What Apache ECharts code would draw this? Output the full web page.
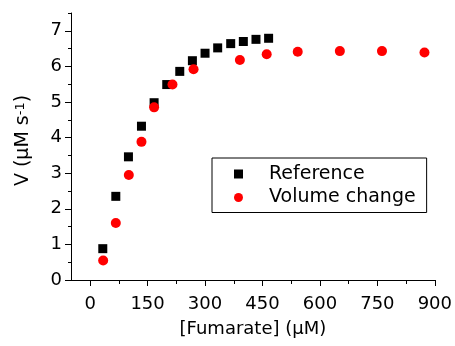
<!DOCTYPE html>
<html>
<head>
<meta charset="utf-8">
<script src="https://cdn.jsdelivr.net/npm/echarts@6/dist/echarts.min.js"></script>
<style>html,body{margin:0;padding:0;background:#fff}#c{width:455px;height:346px}</style>
</head>
<body>
<div id="c"></div>
<script>
var refX = [33, 67, 100, 134, 167, 200, 234, 267, 300, 333, 367, 400, 433, 466];
var refY = [0.88, 2.35, 3.46, 4.32, 4.98, 5.49, 5.86, 6.16, 6.37, 6.52, 6.64, 6.70, 6.76, 6.79];
var volX = [34, 67, 101, 134, 167, 215, 270, 391, 461, 542, 652, 762, 873];
var volY = [0.55, 1.60, 2.95, 3.88, 4.85, 5.49, 5.92, 6.18, 6.34, 6.41, 6.43, 6.43, 6.39];
var xMajor = [0, 150, 300, 450, 600, 750, 900];
var xMinor = [75, 225, 375, 525, 675, 825];
var yMajor = [0, 1, 2, 3, 4, 5, 6, 7];
var yMinor = [0.5, 1.5, 2.5, 3.5, 4.5, 5.5, 6.5, 7.5];

function zip(a, b) { return a.map(function (v, i) { return [v, b[i]]; }); }

var FONT = 'DejaVu Sans, sans-serif';
var chart = echarts.init(document.getElementById('c'), null, {renderer: 'canvas'});
var lineStyle = {color: '#000', width: 1};
chart.setOption({
  animation: false,
  grid: {left: 71, right: 20, top: 13, bottom: 66},
  legend: {
    orient: 'vertical',
    left: 212, top: 158,
    padding: [6, 11, 5, 22],
    borderColor: '#000', borderWidth: 1,
    itemWidth: 9, itemHeight: 9, itemGap: 3.5,
    textStyle: {fontFamily: FONT, fontSize: 19, color: '#000', lineHeight: 20, padding: [0, 0, 0, 21]},
    data: ['Reference', 'Volume change']
  },
  xAxis: [{
    type: 'value', min: -50, max: 900,
    name: '[Fumarate] (\u00b5M)', nameLocation: 'middle', nameGap: 40, nameMoveOverlap: false,
    nameTextStyle: {fontFamily: FONT, fontSize: 18, color: '#000'},
    axisLine: {onZero: false, lineStyle: lineStyle},
    axisTick: {customValues: xMajor, length: 6, lineStyle: lineStyle},
    axisLabel: {customValues: xMajor, margin: 15, fontFamily: FONT, fontSize: 18, color: '#000'},
    splitLine: {show: false}
  }, {
    type: 'value', min: -50, max: 900, position: 'bottom', gridIndex: 0,
    axisLine: {show: false, onZero: false},
    axisTick: {customValues: xMinor, length: 4, lineStyle: lineStyle},
    axisLabel: {show: false},
    splitLine: {show: false}
  }],
  yAxis: [{
    type: 'value', min: 0, max: 7.5,
    name: '{a|V (\u00b5M s}{b|-1}{a|)}', nameLocation: 'middle', nameGap: 38, nameRotate: 90, nameMoveOverlap: false,
    nameTextStyle: {padding: [0, 0, 0, 12], rich: {
      a: {fontFamily: FONT, fontSize: 19, color: '#000'},
      b: {fontFamily: FONT, fontSize: 13, color: '#000', verticalAlign: 'top'}
    }},
    axisLine: {onZero: false, lineStyle: lineStyle},
    axisTick: {customValues: yMajor, length: 6, lineStyle: lineStyle},
    axisLabel: {customValues: yMajor, margin: 9, fontFamily: FONT, fontSize: 18, color: '#000'},
    splitLine: {show: false}
  }, {
    type: 'value', min: 0, max: 7.5, position: 'left',
    axisLine: {show: false, onZero: false},
    axisTick: {customValues: yMinor, length: 3, lineStyle: lineStyle},
    axisLabel: {show: false},
    splitLine: {show: false}
  }],
  series: [{
    name: 'Reference', type: 'scatter', symbol: 'rect', symbolSize: 9,
    itemStyle: {color: '#000', opacity: 1},
    data: zip(refX, refY)
  }, {
    name: 'Volume change', type: 'scatter', symbol: 'circle', symbolSize: 10,
    itemStyle: {color: '#ff0000', opacity: 1},
    data: zip(volX, volY)
  }]
});
</script>
</body>
</html>
